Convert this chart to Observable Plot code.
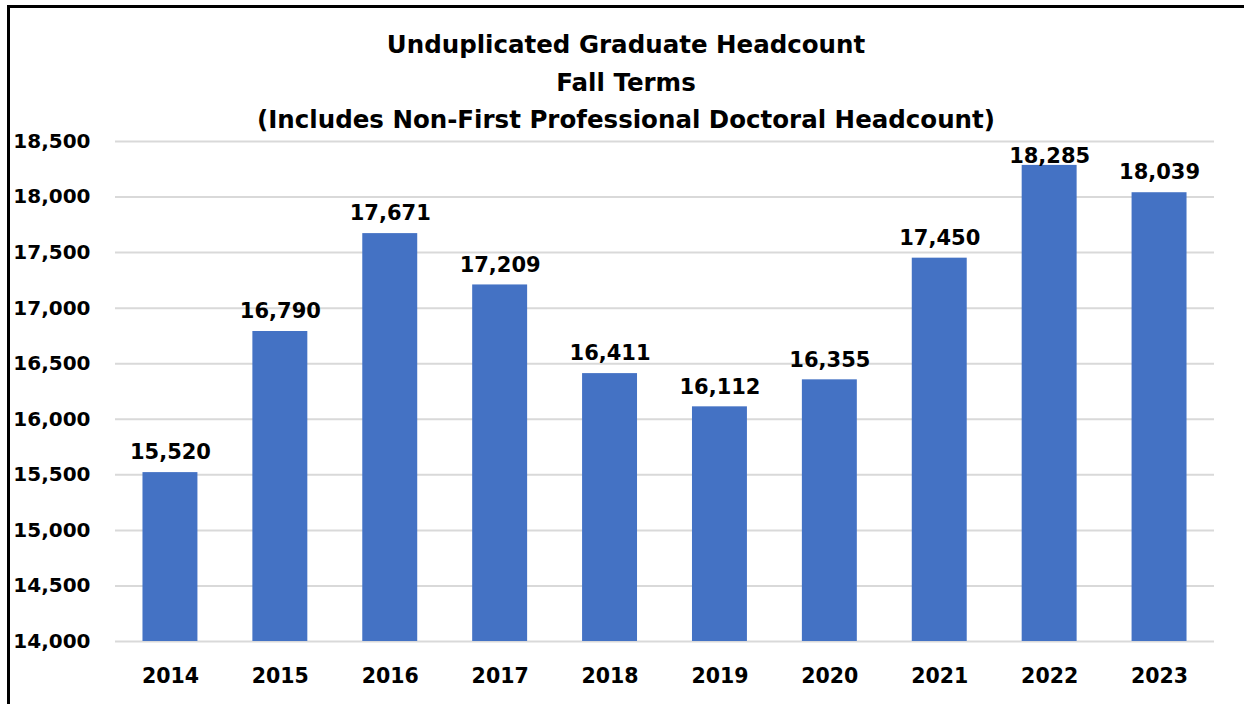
<!DOCTYPE html>
<html>
<head>
<meta charset="utf-8">
<script src="https://cdn.jsdelivr.net/npm/d3@7"></script>
<script src="https://cdn.jsdelivr.net/npm/@observablehq/plot@0.6"></script>
<style>
  html, body { margin: 0; padding: 0; background: #fff; }
  #wrap { position: relative; width: 1244px; height: 704px; overflow: hidden; }
  #frame { position: absolute; left: 7px; top: 5px; width: 1300px; height: 800px;
           border-left: 3px solid #000; border-top: 3px solid #000; box-sizing: border-box; }
  #title { position: absolute; left: 0; top: 26px; width: 1252px; text-align: center;
           font-family: "DejaVu Sans", sans-serif; font-weight: bold; font-size: 24.5px;
           line-height: 37.5px; color: #000; }
  #chart { position: absolute; left: 0; top: 0; }
</style>
</head>
<body>
<div id="wrap">
  <div id="chart"></div>
  <div id="frame"></div>
  <div id="title">Unduplicated Graduate Headcount<br>Fall Terms<br>(Includes Non-First Professional Doctoral Headcount)</div>
</div>
<script>
const years = ["2014", "2015", "2016", "2017", "2018", "2019", "2020", "2021", "2022", "2023"];
const headcount = [15520, 16790, 17671, 17209, 16411, 16112, 16355, 17450, 18285, 18039];
const yTicks = [14000, 14500, 15000, 15500, 16000, 16500, 17000, 17500, 18000, 18500];

const data = years.map((y, i) => ({year: y, value: headcount[i]}));
const fmt = d3.format(",");

const chart = Plot.plot({
  width: 1244,
  height: 704,
  marginLeft: 115,
  marginRight: 30,
  marginTop: 141,
  marginBottom: 63,
  style: {fontFamily: "DejaVu Sans, sans-serif", fontWeight: "bold", fontSize: "20px", color: "#000", background: "transparent"},
  x: {domain: years, paddingInner: 0.5, paddingOuter: 0.25, round: false, label: null},
  y: {domain: [14000, 18500], label: null},
  marks: [
    Plot.ruleY(yTicks, {stroke: "#d9d9d9", strokeWidth: 2}),
    Plot.barY(data, {x: "year", y1: 14000, y2: "value", fill: "#4472C4"}),
    Plot.text(data, {x: "year", y: d => Math.min(d.value + 180, 18370), text: d => fmt(d.value),
      lineAnchor: "middle", fill: "#000", fontSize: 21, fontWeight: "bold"}),
    Plot.axisY({ticks: yTicks, tickSize: 0, tickPadding: 25, tickFormat: fmt, label: null, fontSize: 20}),
    Plot.axisX({tickSize: 0, tickPadding: 27, label: null, fontSize: 20.5})
  ]
});
document.getElementById("chart").appendChild(chart);
</script>
</body>
</html>
